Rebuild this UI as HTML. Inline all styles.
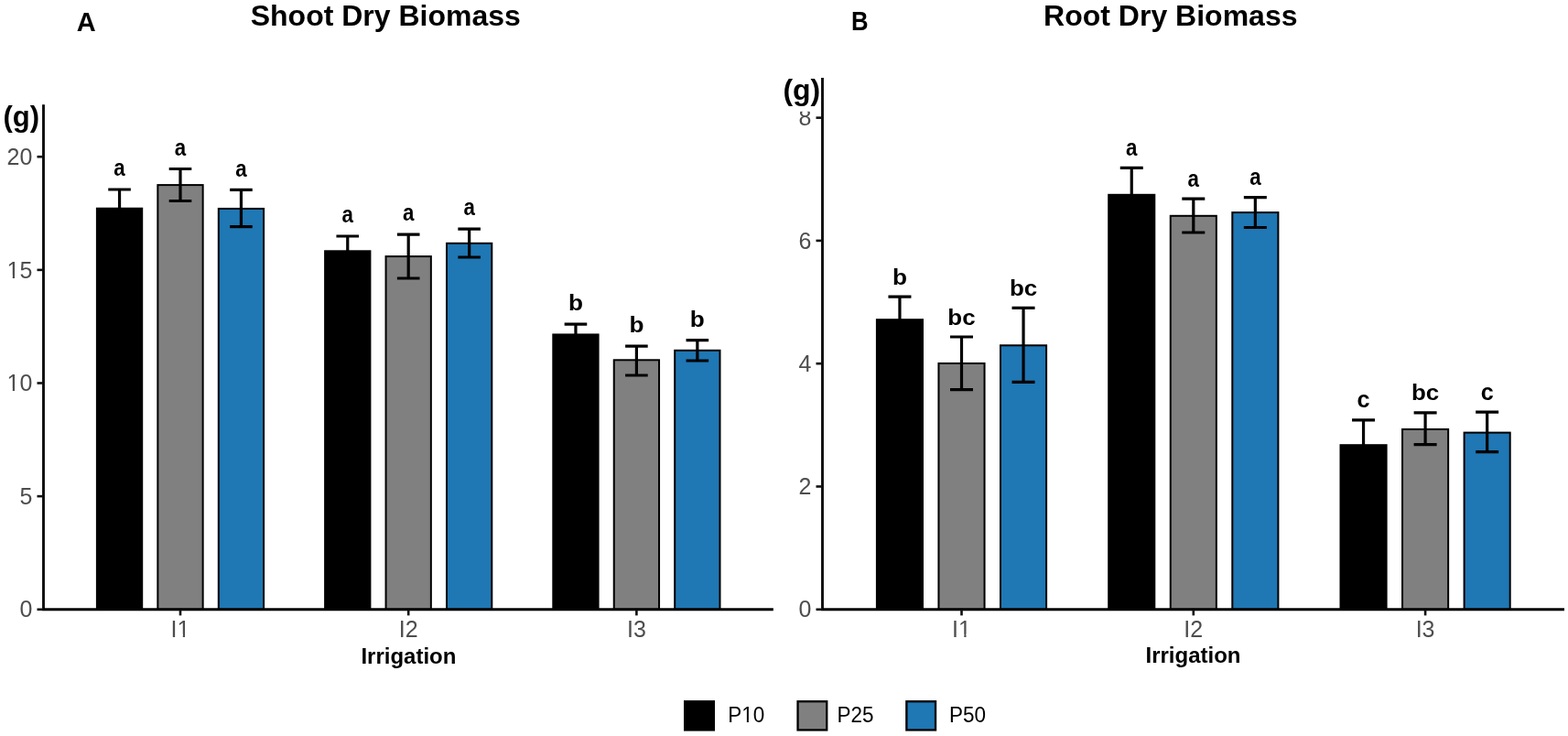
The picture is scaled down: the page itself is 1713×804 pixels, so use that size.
<!DOCTYPE html>
<html><head><meta charset="utf-8"><title>Shoot and Root Dry Biomass</title>
<style>html,body{margin:0;padding:0;background:#fff;width:1713px;height:804px;overflow:hidden}svg{display:block}</style>
</head><body>
<svg width="1713" height="804" viewBox="0 0 1713 804" font-family='"Liberation Sans", Arial, sans-serif'>
<defs><clipPath id="f1"><path d="M-5000 -5000H5000V5000H-5000ZM8.323 424.332H13.779V429.200H8.323ZM15.988 424.332H21.249V429.200H15.988Z" clip-rule="evenodd"/></clipPath><clipPath id="f2"><path d="M-5000 -5000H5000V5000H-5000ZM8.323 300.702H13.779V305.570H8.323ZM15.988 300.702H21.249V305.570H15.988Z" clip-rule="evenodd"/></clipPath><clipPath id="f3"><path d="M-5000 -5000H5000V5000H-5000ZM194.352 692.732H199.808V697.600H194.352ZM202.017 692.732H207.277V697.600H202.017Z" clip-rule="evenodd"/></clipPath><clipPath id="f4"><path d="M-5000 -5000H5000V5000H-5000ZM1047.852 692.732H1053.308V697.600H1047.852ZM1055.517 692.732H1060.777V697.600H1055.517Z" clip-rule="evenodd"/></clipPath><clipPath id="f5"><path d="M-5000 -5000H5000V5000H-5000ZM15.655 -2.681H20.665V2.000H15.655ZM22.654 -2.681H27.488V2.000H22.654Z" clip-rule="evenodd"/></clipPath></defs>
<rect width="1713" height="804" fill="#fff"/>
<rect x="105.90" y="227.70" width="49.30" height="438.05" fill="#000000" stroke="#000" stroke-width="2"/>
<rect x="172.35" y="202.10" width="49.30" height="463.65" fill="#808080" stroke="#000" stroke-width="2"/>
<rect x="238.80" y="227.95" width="49.30" height="437.80" fill="#1F77B4" stroke="#000" stroke-width="2"/>
<rect x="355.10" y="274.30" width="49.30" height="391.45" fill="#000000" stroke="#000" stroke-width="2"/>
<rect x="421.55" y="280.10" width="49.30" height="385.65" fill="#808080" stroke="#000" stroke-width="2"/>
<rect x="488.00" y="265.80" width="49.30" height="399.95" fill="#1F77B4" stroke="#000" stroke-width="2"/>
<rect x="604.30" y="365.45" width="49.30" height="300.30" fill="#000000" stroke="#000" stroke-width="2"/>
<rect x="670.75" y="393.30" width="49.30" height="272.45" fill="#808080" stroke="#000" stroke-width="2"/>
<rect x="737.20" y="382.80" width="49.30" height="282.95" fill="#1F77B4" stroke="#000" stroke-width="2"/>
<path d="M118.25 207.00H142.85M130.55 207.00V248.40M118.25 248.40H142.85" stroke="#000" stroke-width="3.2" fill="none"/>
<text transform="translate(130.55 192.20) scale(0.91 1.075)" text-anchor="middle" font-weight="bold" font-size="24.5">a</text>
<path d="M184.70 184.50H209.30M197.00 184.50V219.50M184.70 219.50H209.30" stroke="#000" stroke-width="3.2" fill="none"/>
<text transform="translate(197.00 169.70) scale(0.91 1.075)" text-anchor="middle" font-weight="bold" font-size="24.5">a</text>
<path d="M251.15 207.30H275.75M263.45 207.30V247.70M251.15 247.70H275.75" stroke="#000" stroke-width="3.2" fill="none"/>
<text transform="translate(263.45 192.50) scale(0.91 1.075)" text-anchor="middle" font-weight="bold" font-size="24.5">a</text>
<path d="M367.45 258.00H392.05M379.75 258.00V290.60M367.45 290.60H392.05" stroke="#000" stroke-width="3.2" fill="none"/>
<text transform="translate(379.75 243.20) scale(0.91 1.075)" text-anchor="middle" font-weight="bold" font-size="24.5">a</text>
<path d="M433.90 256.10H458.50M446.20 256.10V304.00M433.90 304.00H458.50" stroke="#000" stroke-width="3.2" fill="none"/>
<text transform="translate(446.20 241.30) scale(0.91 1.075)" text-anchor="middle" font-weight="bold" font-size="24.5">a</text>
<path d="M500.35 250.20H524.95M512.65 250.20V281.00M500.35 281.00H524.95" stroke="#000" stroke-width="3.2" fill="none"/>
<text transform="translate(512.65 235.40) scale(0.91 1.075)" text-anchor="middle" font-weight="bold" font-size="24.5">a</text>
<path d="M616.65 354.20H641.25M628.95 354.20V376.70M616.65 376.70H641.25" stroke="#000" stroke-width="3.2" fill="none"/>
<text transform="translate(628.95 339.40) scale(1.07 1.0)" text-anchor="middle" font-weight="bold" font-size="24.5">b</text>
<path d="M683.10 378.20H707.70M695.40 378.20V410.00M683.10 410.00H707.70" stroke="#000" stroke-width="3.2" fill="none"/>
<text transform="translate(695.40 363.40) scale(1.07 1.0)" text-anchor="middle" font-weight="bold" font-size="24.5">b</text>
<path d="M749.55 371.60H774.15M761.85 371.60V394.00M749.55 394.00H774.15" stroke="#000" stroke-width="3.2" fill="none"/>
<text transform="translate(761.85 356.80) scale(1.07 1.0)" text-anchor="middle" font-weight="bold" font-size="24.5">b</text>
<path d="M47.5 114.2V667.15M46.10 665.75H844.85" stroke="#000" stroke-width="2.8" fill="none"/>
<path d="M40.50 665.75H47.5" stroke="#111" stroke-width="2.6"/>
<text x="35.30" y="674.45" text-anchor="end" font-size="25" fill="#4D4D4D">0</text>
<path d="M40.50 542.12H47.5" stroke="#111" stroke-width="2.6"/>
<text x="35.30" y="550.83" text-anchor="end" font-size="25" fill="#4D4D4D">5</text>
<path d="M40.50 418.50H47.5" stroke="#111" stroke-width="2.6"/>
<text clip-path="url(#f1)" x="35.30" y="427.20" text-anchor="end" font-size="25" fill="#4D4D4D">10</text>
<path d="M40.50 294.88H47.5" stroke="#111" stroke-width="2.6"/>
<text clip-path="url(#f2)" x="35.30" y="303.57" text-anchor="end" font-size="25" fill="#4D4D4D">15</text>
<path d="M40.50 171.25H47.5" stroke="#111" stroke-width="2.6"/>
<text x="35.30" y="179.95" text-anchor="end" font-size="25" fill="#4D4D4D">20</text>
<path d="M197.00 665.75V672.35" stroke="#111" stroke-width="2.6"/>
<text clip-path="url(#f3)" x="197.00" y="695.6" text-anchor="middle" font-size="25" fill="#4D4D4D">I1</text>
<path d="M446.20 665.75V672.35" stroke="#111" stroke-width="2.6"/>
<text x="446.20" y="695.6" text-anchor="middle" font-size="25" fill="#4D4D4D">I2</text>
<path d="M695.40 665.75V672.35" stroke="#111" stroke-width="2.6"/>
<text x="695.40" y="695.6" text-anchor="middle" font-size="25" fill="#4D4D4D">I3</text>
<rect x="957.90" y="349.20" width="50.10" height="316.55" fill="#000000" stroke="#000" stroke-width="2"/>
<rect x="1025.45" y="396.95" width="50.10" height="268.80" fill="#808080" stroke="#000" stroke-width="2"/>
<rect x="1093.00" y="377.30" width="50.10" height="288.45" fill="#1F77B4" stroke="#000" stroke-width="2"/>
<rect x="1211.20" y="212.80" width="50.10" height="452.95" fill="#000000" stroke="#000" stroke-width="2"/>
<rect x="1278.75" y="235.80" width="50.10" height="429.95" fill="#808080" stroke="#000" stroke-width="2"/>
<rect x="1346.30" y="232.10" width="50.10" height="433.65" fill="#1F77B4" stroke="#000" stroke-width="2"/>
<rect x="1464.50" y="486.20" width="50.10" height="179.55" fill="#000000" stroke="#000" stroke-width="2"/>
<rect x="1532.05" y="468.95" width="50.10" height="196.80" fill="#808080" stroke="#000" stroke-width="2"/>
<rect x="1599.60" y="472.60" width="50.10" height="193.15" fill="#1F77B4" stroke="#000" stroke-width="2"/>
<path d="M970.45 324.20H995.45M982.95 324.20V374.20M970.45 374.20H995.45" stroke="#000" stroke-width="3.2" fill="none"/>
<text transform="translate(982.95 310.80) scale(1.07 1.0)" text-anchor="middle" font-weight="bold" font-size="24.5">b</text>
<path d="M1038.00 368.00H1063.00M1050.50 368.00V425.70M1038.00 425.70H1063.00" stroke="#000" stroke-width="3.2" fill="none"/>
<text transform="translate(1050.50 354.60) scale(1.06 1.0)" text-anchor="middle" font-weight="bold" font-size="24.5">bc</text>
<path d="M1105.55 336.30H1130.55M1118.05 336.30V417.30M1105.55 417.30H1130.55" stroke="#000" stroke-width="3.2" fill="none"/>
<text transform="translate(1118.05 322.90) scale(1.06 1.0)" text-anchor="middle" font-weight="bold" font-size="24.5">bc</text>
<path d="M1223.75 183.40H1248.75M1236.25 183.40V242.20M1223.75 242.20H1248.75" stroke="#000" stroke-width="3.2" fill="none"/>
<text transform="translate(1236.25 170.00) scale(0.91 1.075)" text-anchor="middle" font-weight="bold" font-size="24.5">a</text>
<path d="M1291.30 217.20H1316.30M1303.80 217.20V254.00M1291.30 254.00H1316.30" stroke="#000" stroke-width="3.2" fill="none"/>
<text transform="translate(1303.80 203.80) scale(0.91 1.075)" text-anchor="middle" font-weight="bold" font-size="24.5">a</text>
<path d="M1358.85 215.60H1383.85M1371.35 215.60V248.50M1358.85 248.50H1383.85" stroke="#000" stroke-width="3.2" fill="none"/>
<text transform="translate(1371.35 202.20) scale(0.91 1.075)" text-anchor="middle" font-weight="bold" font-size="24.5">a</text>
<path d="M1477.05 458.80H1502.05M1489.55 458.80V513.60M1477.05 513.60H1502.05" stroke="#000" stroke-width="3.2" fill="none"/>
<text transform="translate(1489.55 445.40) scale(1.03 1.08)" text-anchor="middle" font-weight="bold" font-size="24.5">c</text>
<path d="M1544.60 450.80H1569.60M1557.10 450.80V485.60M1544.60 485.60H1569.60" stroke="#000" stroke-width="3.2" fill="none"/>
<text transform="translate(1557.10 437.40) scale(1.06 1.0)" text-anchor="middle" font-weight="bold" font-size="24.5">bc</text>
<path d="M1612.15 450.20H1637.15M1624.65 450.20V493.60M1612.15 493.60H1637.15" stroke="#000" stroke-width="3.2" fill="none"/>
<text transform="translate(1624.65 436.80) scale(1.03 1.08)" text-anchor="middle" font-weight="bold" font-size="24.5">c</text>
<path d="M898.5 84.9V667.15M897.10 665.75H1709.0" stroke="#000" stroke-width="2.8" fill="none"/>
<path d="M891.50 665.75H898.5" stroke="#111" stroke-width="2.6"/>
<text x="886.30" y="674.45" text-anchor="end" font-size="25" fill="#4D4D4D">0</text>
<path d="M891.50 531.47H898.5" stroke="#111" stroke-width="2.6"/>
<text x="886.30" y="540.17" text-anchor="end" font-size="25" fill="#4D4D4D">2</text>
<path d="M891.50 397.19H898.5" stroke="#111" stroke-width="2.6"/>
<text x="886.30" y="405.89" text-anchor="end" font-size="25" fill="#4D4D4D">4</text>
<path d="M891.50 262.91H898.5" stroke="#111" stroke-width="2.6"/>
<text x="886.30" y="271.61" text-anchor="end" font-size="25" fill="#4D4D4D">6</text>
<path d="M891.50 128.63H898.5" stroke="#111" stroke-width="2.6"/>
<text x="886.30" y="137.33" text-anchor="end" font-size="25" fill="#4D4D4D">8</text>
<path d="M1050.50 665.75V672.35" stroke="#111" stroke-width="2.6"/>
<text clip-path="url(#f4)" x="1050.50" y="695.6" text-anchor="middle" font-size="25" fill="#4D4D4D">I1</text>
<path d="M1303.80 665.75V672.35" stroke="#111" stroke-width="2.6"/>
<text x="1303.80" y="695.6" text-anchor="middle" font-size="25" fill="#4D4D4D">I2</text>
<path d="M1557.10 665.75V672.35" stroke="#111" stroke-width="2.6"/>
<text x="1557.10" y="695.6" text-anchor="middle" font-size="25" fill="#4D4D4D">I3</text>
<rect x="0" y="112" width="44" height="36" fill="#fff"/>
<text transform="translate(3.4 138.4) scale(0.97 1)" font-weight="bold" font-size="32">(g)</text>
<rect x="852" y="82" width="44.5" height="39.8" fill="#fff"/>
<text x="855.4" y="108.9" font-weight="bold" font-size="32">(g)</text>
<text x="421.3" y="28" text-anchor="middle" font-weight="bold" font-size="32">Shoot Dry Biomass</text>
<text x="1278.8" y="28" text-anchor="middle" font-weight="bold" font-size="32">Root Dry Biomass</text>
<text x="83.8" y="34" font-weight="bold" font-size="29">A</text>
<text transform="translate(930.0 32.5) scale(0.887 1.03)" font-weight="bold" font-size="29">B</text>
<text x="446.4" y="724.6" text-anchor="middle" font-weight="bold" font-size="24">Irrigation</text>
<text x="1303.5" y="724.1" text-anchor="middle" font-weight="bold" font-size="24">Irrigation</text>
<rect x="748.15" y="766.25" width="31.70" height="31.20" fill="#000000" stroke="#000" stroke-width="2.3"/>
<text clip-path="url(#f5)" transform="translate(795.20 789.4) scale(1 1.06)" font-size="22.5" fill="#000">P10</text>
<rect x="871.55" y="766.25" width="31.70" height="31.20" fill="#808080" stroke="#000" stroke-width="2.3"/>
<text transform="translate(914.40 789.4) scale(1 1.06)" font-size="22.5" fill="#000">P25</text>
<rect x="990.35" y="766.25" width="31.70" height="31.20" fill="#1F77B4" stroke="#000" stroke-width="2.3"/>
<text transform="translate(1037.10 789.4) scale(1 1.06)" font-size="22.5" fill="#000">P50</text>
</svg>
</body></html>
